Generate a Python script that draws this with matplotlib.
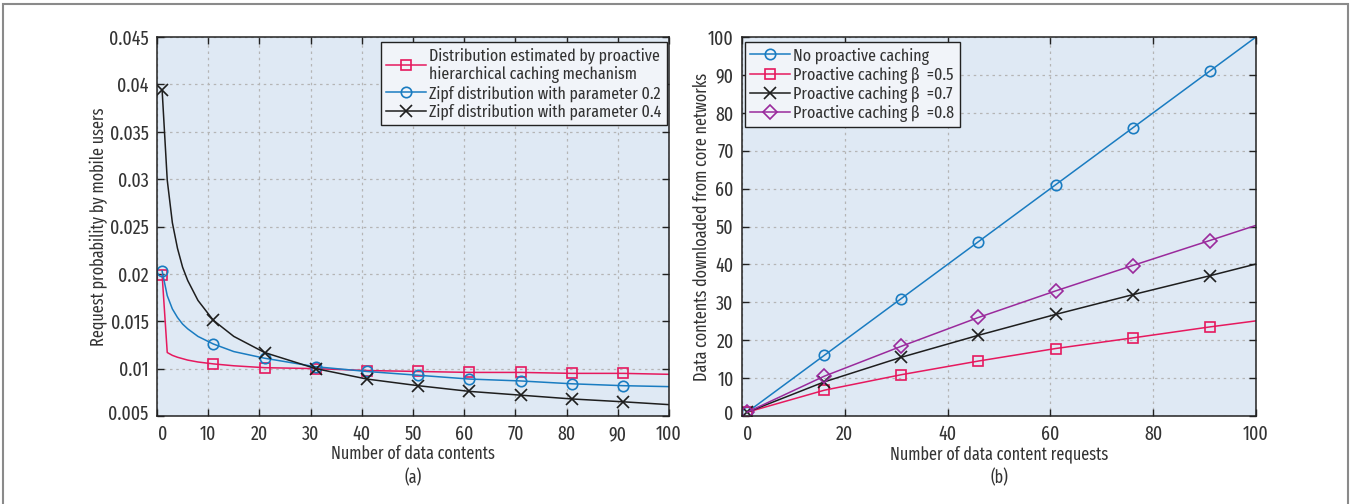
import matplotlib
matplotlib.use("Agg")
import matplotlib.pyplot as plt
from matplotlib.patches import Rectangle
import matplotlib.transforms as mtransforms

# ---------------- data (a) ----------------
xa_est = [1, 2, 3, 4, 6, 8, 11, 15, 21, 31, 41, 51, 61, 71, 81, 91, 100]
ya_est = [0.0199, 0.0117, 0.0114, 0.0112, 0.0109, 0.0107, 0.0105, 0.0103, 0.0101,
          0.0100, 0.0098, 0.0097, 0.0096, 0.0096, 0.0095, 0.0095, 0.0094]
xa_zipf = [1, 2, 3, 4, 5, 6, 8, 11, 15, 21, 31, 41, 51, 61, 71, 81, 91, 100]
ya_zipf02 = [0.0203, 0.0177, 0.0163, 0.0154, 0.0147, 0.0142, 0.0134, 0.0126, 0.0118,
             0.0111, 0.0102, 0.0097, 0.0093, 0.0089, 0.0087, 0.0084, 0.0082, 0.0081]
ya_zipf04 = [0.0394, 0.0299, 0.0254, 0.0227, 0.0207, 0.0193, 0.0172, 0.0151, 0.0134,
             0.0117, 0.0100, 0.0089, 0.0082, 0.0076, 0.0072, 0.0068, 0.0065, 0.0062]
marks_a = [1, 11, 21, 31, 41, 51, 61, 71, 81, 91]
labels_a = ["Distribution estimated by proactive\nhierarchical caching mechanism",
            "Zipf distribution with parameter 0.2",
            "Zipf distribution with parameter 0.4"]
xticks_a = [0, 10, 20, 30, 40, 50, 60, 70, 80, 90, 100]
yticks_a = [0.005, 0.01, 0.015, 0.02, 0.025, 0.03, 0.035, 0.04, 0.045]
yticklabels_a = ["0.005", "0.01", "0.015", "0.02", "0.025", "0.03", "0.035", "0.04", "0.045"]

# ---------------- data (b) ----------------
xb = [1, 16, 31, 46, 61, 76, 91, 100]
yb_none = [1, 16, 31, 46, 61, 76, 91, 100]
yb_05 = [1, 6.8, 10.9, 14.5, 17.8, 20.6, 23.5, 25.1]
yb_07 = [1, 9.0, 15.5, 21.3, 26.8, 32.0, 37.0, 40.1]
yb_08 = [1, 10.5, 18.4, 26.0, 33.0, 39.7, 46.3, 50.3]
labels_b = ["No proactive caching", "Proactive caching β  =0.5",
            "Proactive caching β  =0.7", "Proactive caching β  =0.8"]
xticks_b = [0, 20, 40, 60, 80, 100]
yticks_b = [0, 10, 20, 30, 40, 50, 60, 70, 80, 90, 100]

PINK = "#e6195e"
BLUE = "#1a7cc1"
BLACK = "#1e1e1e"
PURPLE = "#9a2a9c"
BG = "#dfe9f4"
TXT = "#333333"

FAM = ['Fira Sans Extra Condensed', 'Fira Sans Condensed', 'Roboto Condensed',
       'PT Sans Narrow', 'DejaVu Sans']
plt.rcParams['font.family'] = FAM
plt.rcParams['font.size'] = 13
FS_TICK = 14
FS_LAB = 12.6
FS_LEG = 12.5

fig = plt.figure(figsize=(13.58, 5.04), dpi=100)
fig.patch.set_facecolor("white")
fig.patches.append(Rectangle((3 / 1358, -0.05), 1345 / 1358, 1.05 - 4 / 504,
                             transform=fig.transFigure, fill=False,
                             edgecolor="#8a8a8a", linewidth=1.5))

axa = fig.add_axes([157 / 1358, 1 - 416 / 504, 512 / 1358, 379 / 504])
axb = fig.add_axes([742 / 1358, 1 - 416 / 504, 514 / 1358, 379 / 504])


def style(ax):
    ax.set_facecolor(BG)
    for s in ax.spines.values():
        s.set_color("#222222")
        s.set_linewidth(1.1)
    ax.tick_params(direction="in", length=5, width=1, color="#222222",
                   top=True, right=True, labelcolor=TXT, labelsize=FS_TICK, pad=6)
    ax.grid(True, color="#b5b5b5", linestyle=(0, (2, 3)), linewidth=0.9)
    ax.set_axisbelow(True)


def marker_idx(xs, marks):
    return [i for i, v in enumerate(xs) if v in marks]


def style_legend(leg):
    fr = leg.get_frame()
    fr.set_facecolor("#f1f4f9")
    fr.set_edgecolor("#222222")
    fr.set_linewidth(1.0)
    fr.set_alpha(1)
    for t in leg.get_texts():
        t.set_color(TXT)


LEGKW = dict(fontsize=FS_LEG, frameon=True, fancybox=False, handlelength=2.3,
             handletextpad=0.2, borderpad=0.3, labelspacing=0.12, borderaxespad=0.0)

style(axa)
kw = dict(linewidth=1.1, markersize=7.5, markerfacecolor="none", markeredgewidth=1.2)
kx = dict(linewidth=1.1, markersize=9, markeredgewidth=1.2)
axa.plot(xa_est, ya_est, color=PINK, marker="s",
         markevery=marker_idx(xa_est, marks_a), label=labels_a[0], **kw)
axa.plot(xa_zipf, ya_zipf02, color=BLUE, marker="o",
         markevery=marker_idx(xa_zipf, marks_a), label=labels_a[1], **kw)
axa.plot(xa_zipf, ya_zipf04, color=BLACK, marker="x",
         markevery=marker_idx(xa_zipf, marks_a), label=labels_a[2], **kx)
axa.set_xlim(0, 100)
axa.set_ylim(0.005, 0.045)
axa.set_xticks(xticks_a)
axa.set_yticks(yticks_a)
axa.set_yticklabels(yticklabels_a)
axa.set_xlabel("Number of data contents", color=TXT, fontsize=FS_LAB, labelpad=1)
axa.set_ylabel("Request probability by mobile users", color=TXT, fontsize=FS_LAB, labelpad=0)
axa.text(0.5, -0.14, "(a)", transform=axa.transAxes, ha="center", va="top",
         color=TXT, fontsize=FS_LAB)
la = axa.legend(loc="upper right", bbox_to_anchor=(0.996, 0.987), **LEGKW)
style_legend(la)

style(axb)
me = list(range(len(xb) - 1))
axb.plot(xb, yb_none, color=BLUE, marker="o", label=labels_b[0], markevery=me, **kw)
axb.plot(xb, yb_05, color=PINK, marker="s", label=labels_b[1], markevery=me, **kw)
axb.plot(xb, yb_07, color=BLACK, marker="x", label=labels_b[2], markevery=me, **kx)
axb.plot(xb, yb_08, color=PURPLE, marker="D", label=labels_b[3], markevery=me,
         linewidth=1.1, markersize=7, markerfacecolor="none", markeredgewidth=1.2)
axb.set_xlim(0, 100)
axb.set_ylim(0, 100)
axb.set_xticks(xticks_b)
axb.set_yticks(yticks_b)
axb.set_xlabel("Number of data content requests", color=TXT, fontsize=FS_LAB, labelpad=1)
axb.set_ylabel("Data contents downloaded from core networks", color=TXT,
               fontsize=FS_LAB, labelpad=-2)
axb.text(0.5, -0.14, "(b)", transform=axb.transAxes, ha="center", va="top",
         color=TXT, fontsize=FS_LAB)
lb = axb.legend(loc="upper left", bbox_to_anchor=(0.005, 0.986), **LEGKW)
style_legend(lb)

# shift the corner labels slightly away from the axes corner
fig.canvas.draw()
for ax in (axa, axb):
    xl = ax.get_xticklabels()[0]
    xl.set_transform(xl.get_transform() + mtransforms.ScaledTranslation(6 / 100, 0, fig.dpi_scale_trans))
    yl = ax.get_yticklabels()[0]
    yl.set_transform(yl.get_transform() + mtransforms.ScaledTranslation(0, 4 / 100, fig.dpi_scale_trans))

fig.savefig("out.png", dpi=100, facecolor="white")
